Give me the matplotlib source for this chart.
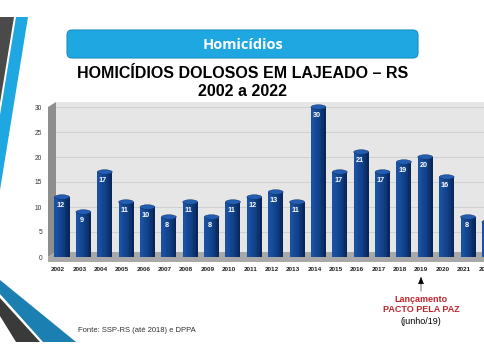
import matplotlib
matplotlib.use("Agg")
import matplotlib.pyplot as plt
import numpy as np
from matplotlib.patches import Polygon, FancyBboxPatch, Ellipse, Rectangle

years = ["2002", "2003", "2004", "2005", "2006", "2007", "2008", "2009", "2010", "2011",
         "2012", "2013", "2014", "2015", "2016", "2017", "2018", "2019", "2020", "2021", "2022"]
values = [12, 9, 17, 11, 10, 8, 11, 8, 11, 12, 13, 11, 30, 17, 21, 17, 19, 20, 16, 8, 7]
yticks = [0, 5, 10, 15, 20, 25, 30]

W, H = 485, 360
fig = plt.figure(figsize=(W / 100, H / 100), dpi=100)
fig.patch.set_facecolor("white")
SANS = ["Liberation Sans", "DejaVu Sans"]

# background / decoration axes in pixel coordinates
bg = fig.add_axes([0, 0, 1, 1])
bg.set_xlim(0, W)
bg.set_ylim(H, 0)
bg.axis("off")

# top-left stripes
bg.add_patch(Polygon([(0, 17), (14, 17), (0, 103)], closed=True, color="#4A4A4A", lw=0))
bg.add_patch(Polygon([(16, 17), (28, 17), (0, 190), (0, 115)], closed=True, color="#1EA7E1", lw=0))
# bottom-left stripes
bg.add_patch(Polygon([(0, 280), (76, 342), (43, 342), (0, 294)], closed=True, color="#1B7FB1", lw=0))
bg.add_patch(Polygon([(0, 298), (40, 342), (16, 342), (0, 316)], closed=True, color="#3A3A3A", lw=0))

# banner
bg.add_patch(FancyBboxPatch((67, 30), 351, 28, boxstyle="round,pad=0,rounding_size=5",
                            fc="#1EA7E1", ec="#1A8FC4", lw=0.8))
bg.text(243, 45, "Homicídios", ha="center", va="center", color="white",
        fontsize=10.5, fontweight="bold", family=["Open Sans", "DejaVu Sans"])
bg.text(243, 74, "HOMICÍDIOS DOLOSOS EM LAJEADO – RS", ha="center", va="center",
        color="black", fontsize=11.5, fontweight="bold", family=SANS)
bg.text(243, 91, "2002 a 2022", ha="center", va="center",
        color="black", fontsize=11.5, fontweight="bold", family=SANS)

# 3D walls
bg.add_patch(Rectangle((56, 102), W - 56, 150, color="#E6E6E6", lw=0))
bg.add_patch(Polygon([(48, 107), (56, 102), (56, 252), (48, 257)], closed=True, color="#8E8E8E", lw=0))
bg.add_patch(Polygon([(48, 257), (56, 252), (W, 252), (W, 262), (48, 262)], closed=True, color="#A8A8A8", lw=0))

# source & annotation
bg.text(78, 330, "Fonte: SSP-RS (até 2018) e DPPA", ha="left", va="center", color="#333333",
        fontsize=5.5, family=SANS)
bg.annotate("", xy=(421, 274), xytext=(421, 294),
            arrowprops=dict(arrowstyle="-|>,head_width=0.18,head_length=0.45", color="black", lw=0.4))
bg.text(421, 300, "Lançamento", ha="center", va="center", color="#C0272D", fontsize=6.5,
        fontweight="bold", family=SANS)
bg.text(421, 310, "PACTO PELA PAZ", ha="center", va="center", color="#C0272D", fontsize=6.5,
        fontweight="bold", family=SANS)
bg.text(421, 321, "(junho/19)", ha="center", va="center", color="black", fontsize=6.5,
        family=SANS)

# chart axes
x0px = 62.0
step = 21.37
left_px = 56.0
right_px = x0px + 20.5 * step
xl = (left_px - x0px) / step
ax = fig.add_axes([left_px / W, (H - 257) / H, (right_px - left_px) / W, 150 / H])
ax.set_xlim(xl, 20.5)
ax.set_ylim(0, 30)
ax.patch.set_alpha(0)
for s in ax.spines.values():
    s.set_visible(False)
ax.set_yticks(yticks)
ax.set_yticklabels([str(t) for t in yticks], family=SANS)
ax.tick_params(axis="y", length=0, labelsize=4.8, labelcolor="#333333", pad=10)
x = np.arange(len(years))
ax.set_xticks(x - 4 / step)
ax.set_xticklabels(years, fontweight="bold", fontsize=4.6, color="#222222", family=SANS)
ax.tick_params(axis="x", length=0, pad=7)
ax.grid(axis="y", color="#CCCCCC", lw=0.6)
ax.set_axisbelow(True)

vals = np.array(values, dtype=float)
bw = 0.7
cols = [
    "#1A50A0", "#1A52A3", "#174C9A", "#154894", "#13448D",
    "#114087", "#0F3B7E", "#0C3472", "#0A2D65", "#082658",
]
n_strips = len(cols)
sw = bw / n_strips
for k in range(n_strips):
    ax.bar(x - bw / 2 + sw * (k + 0.5), vals, width=sw * 1.05, color=cols[k], lw=0,
           zorder=2, clip_on=False)
for xi, v in zip(x, vals):
    ax.add_patch(Ellipse((xi, v), bw, 0.9, fc="#245CB0", ec="#0A2D65", lw=0.3, zorder=3,
                         clip_on=False))
    ax.text(xi - 0.08, v - 1.7, f"{int(v)}", ha="center", va="center", color="white",
            fontsize=5.2, fontweight="bold", zorder=4, family=SANS)

fig.savefig("out.png", dpi=100, facecolor="white")
